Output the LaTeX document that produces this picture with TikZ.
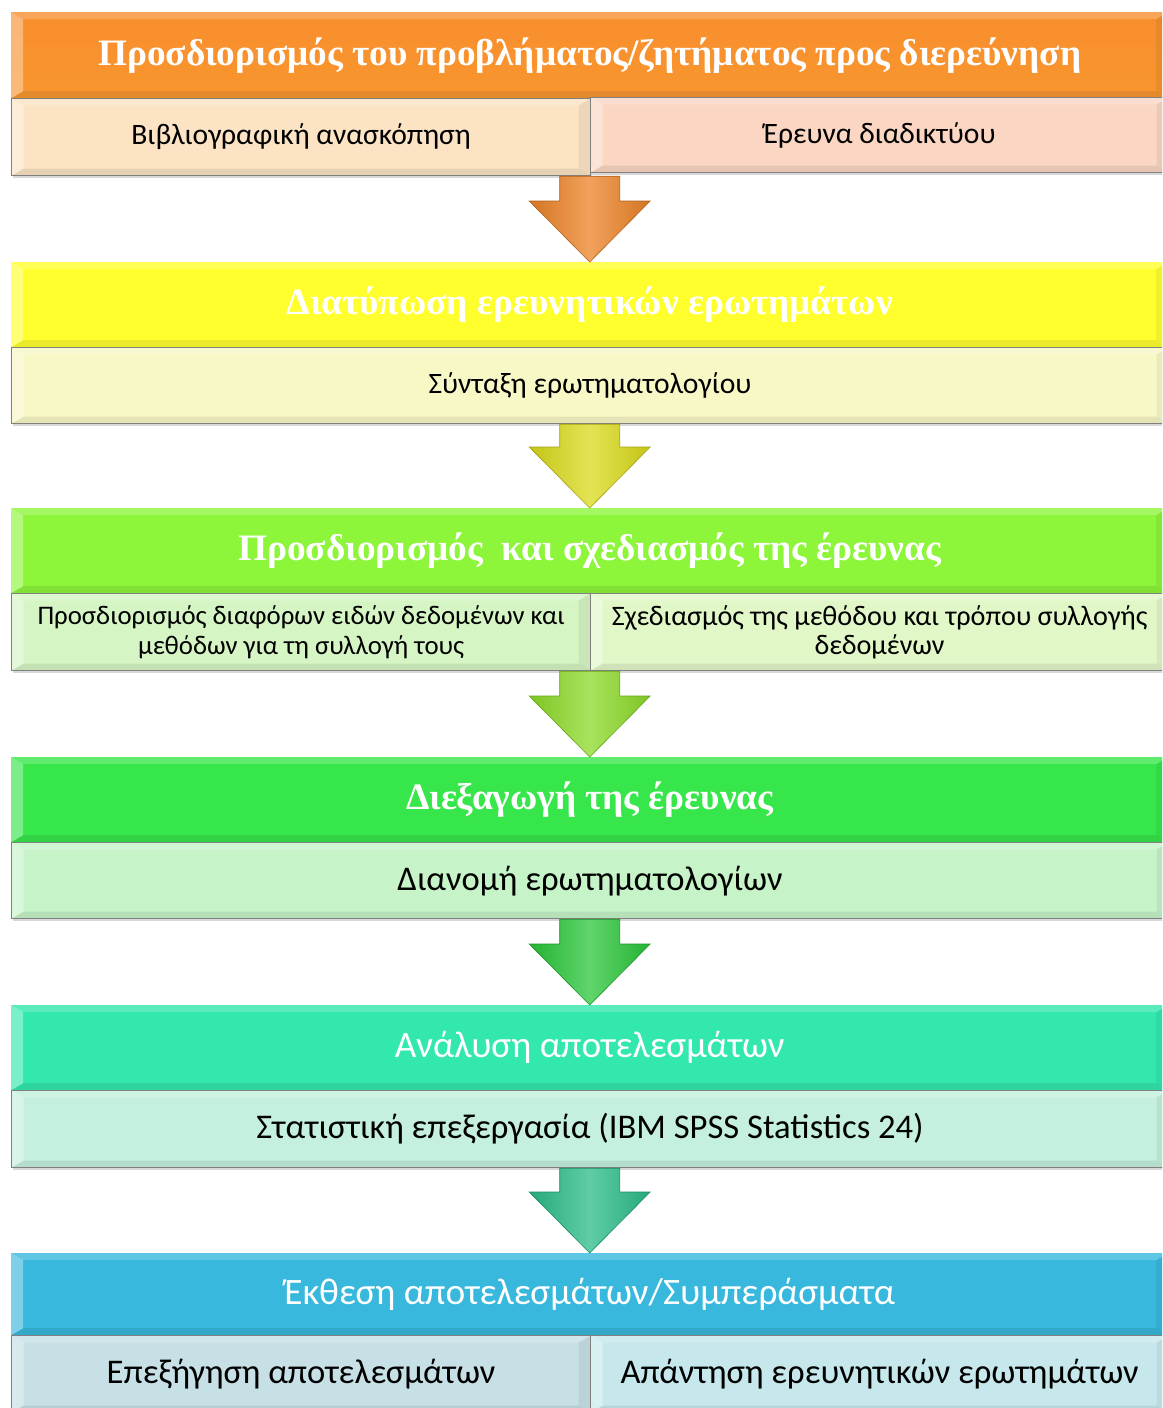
\documentclass[tikz,border=0pt]{standalone}
\usepackage{fontspec}
\setmainfont{Carlito}
\newfontfamily\headserif{Liberation Serif}
\usetikzlibrary{calc,shadows}
\definecolor{hOne}{HTML}{F8962F}
\definecolor{hTwo}{HTML}{FFFF2E}
\definecolor{hThree}{HTML}{8DF53A}
\definecolor{hFour}{HTML}{36E64A}
\definecolor{hFive}{HTML}{33E8AE}
\definecolor{hSix}{HTML}{38B8DC}
\definecolor{sOneL}{HTML}{FBE3C4}
\definecolor{sOneR}{HTML}{FAD6C3}
\definecolor{sTwo}{HTML}{F8F8C6}
\definecolor{sThreeL}{HTML}{D5F5C4}
\definecolor{sThreeR}{HTML}{E2F7C8}
\definecolor{sFour}{HTML}{C6F4C8}
\definecolor{sFive}{HTML}{C4F0DD}
\definecolor{sSixL}{HTML}{C6E0E6}
\definecolor{sSixR}{HTML}{C6E8EC}
\definecolor{aOne}{HTML}{EC8226}
\definecolor{aTwo}{HTML}{DADA1A}
\definecolor{aThree}{HTML}{8CDA28}
\definecolor{aFour}{HTML}{2AC63A}
\definecolor{aFive}{HTML}{2ABC88}
\tikzset{
  bevel/.style={path picture={
    \coordinate (bnw) at (path picture bounding box.north west);
    \coordinate (bne) at (path picture bounding box.north east);
    \coordinate (bsw) at (path picture bounding box.south west);
    \coordinate (bse) at (path picture bounding box.south east);
    \fill[white,opacity=.35] (bnw) -- (bsw) -- ($(bsw)+(12,-7)$) -- ($(bnw)+(12,7)$) -- cycle;
    \fill[white,opacity=.2] (bnw) -- (bne) -- ($(bne)+(-12,7)$) -- ($(bnw)+(12,7)$) -- cycle;
    \fill[black,opacity=.08] (bsw) -- (bse) -- ($(bse)+(-12,-7)$) -- ($(bsw)+(12,-7)$) -- cycle;
    \fill[black,opacity=.06] (bne) -- (bse) -- ($(bse)+(-12,-7)$) -- ($(bne)+(-12,7)$) -- cycle;
  }},
  header/.style={anchor=north west, inner sep=0pt, minimum width=1157pt,
    minimum height=#1, bevel, text=white,
    drop shadow={shadow xshift=1.5pt, shadow yshift=-2.5pt, opacity=.25}},
  header/.default=85pt,
  subbox/.style={anchor=north west, inner sep=0pt, minimum height=77pt,
    draw=black!50, line width=1.2pt, bevel, text=black, align=center,
    drop shadow={shadow xshift=1.5pt, shadow yshift=-2.5pt, opacity=.3}},
  halfw/.style={minimum width=579pt},
  fullw/.style={minimum width=1157pt},
  serifhead/.style={font=\headserif\bfseries\fontsize{37.3}{42}\selectfont},
  sanshead/.style={font=\fontsize{37.3}{42}\selectfont},
}
\newcommand\flowarrow[3]{%
  \shade[left color=#3!90!black, right color=#3!90!black, middle color=#3!75!white,
         draw=#3!75!black, line width=0.6pt]
    let \p1=(#1), \p2=(#2) in
    (\x2-30pt,\y1) -- (\x2+30pt,\y1) -- (\x2+30pt,\y2+61pt) -- (\x2+60.5pt,\y2+61pt)
    -- (\x2,\y2) -- (\x2-60.5pt,\y2+61pt) -- (\x2-30pt,\y2+61pt) -- cycle;
}
\begin{document}
\begin{tikzpicture}[x=1pt,y=-1pt]
\useasboundingbox (0,0) rectangle (1162,1408);
\clip (0,0) rectangle (1162,1408);
\fill[white] (0,0) rectangle (1162,1408);

% section 1
\node[header=86pt, top color=hOne!95!red, bottom color=hOne, serifhead] (h1) at (11,12)
  {Προσδιορισμός του προβλήματος/ζητήματος προς διερεύνηση};
\node[subbox, halfw, fill=sOneL, font=\fontsize{29.6}{34}\selectfont] (s1l) at (11,98) {Βιβλιογραφική ανασκόπηση};
\node[subbox, minimum width=578pt, minimum height=75pt, fill=sOneR, font=\fontsize{29.6}{34}\selectfont] (s1r) at (590,97) {Έρευνα διαδικτύου};

% section 2
\node[header, fill=hTwo, serifhead] (h2) at (11,262) {Διατύπωση ερευνητικών ερωτημάτων};
\node[subbox, fullw, minimum height=76pt, fill=sTwo, font=\fontsize{29.6}{34}\selectfont] (s2) at (11,347) {Σύνταξη ερωτηματολογίου};

% section 3
\node[header, fill=hThree, serifhead] (h3) at (11,508) {Προσδιορισμός\ \ και σχεδιασμός της έρευνας};
\node[subbox, halfw, fill=sThreeL, font=\fontsize{26.8}{29.5}\selectfont] (s3l) at (11,593)
  {Προσδιορισμός διαφόρων ειδών δεδομένων και\\μεθόδων για τη συλλογή τους};
\node[subbox, minimum width=578pt, fill=sThreeR, font=\fontsize{28.2}{29.5}\selectfont] (s3r) at (590,593)
  {Σχεδιασμός της μεθόδου και τρόπου συλλογής\\δεδομένων};

% section 4
\node[header, fill=hFour, serifhead] (h4) at (11,757) {Διεξαγωγή της έρευνας};
\node[subbox, fullw, minimum height=76pt, fill=sFour, font=\fontsize{34.6}{40}\selectfont] (s4) at (11,842) {Διανομή ερωτηματολογίων};

% section 5
\node[header, fill=hFive, sanshead] (h5) at (11,1005) {Ανάλυση αποτελεσμάτων};
\node[subbox, fullw, fill=sFive, font=\fontsize{34.6}{40}\selectfont] (s5) at (11,1090) {Στατιστική επεξεργασία (IBM SPSS Statistics 24)};

% section 6
\node[header=82pt, fill=hSix, sanshead] (h6) at (11,1253) {Έκθεση αποτελεσμάτων/Συμπεράσματα};
\node[subbox, halfw, fill=sSixL, font=\fontsize{34.6}{40}\selectfont] (s6l) at (11,1335) {Επεξήγηση αποτελεσμάτων};
\node[subbox, minimum width=578pt, fill=sSixR, font=\fontsize{34.6}{40}\selectfont] (s6r) at (590,1335) {Απάντηση ερευνητικών ερωτημάτων};

% arrows
\flowarrow{s1l.south east}{h2.north}{aOne}
\flowarrow{s2.south}{h3.north}{aTwo}
\flowarrow{s3l.south east}{h4.north}{aThree}
\flowarrow{s4.south}{h5.north}{aFour}
\flowarrow{s5.south}{h6.north}{aFive}
\end{tikzpicture}
\end{document}
